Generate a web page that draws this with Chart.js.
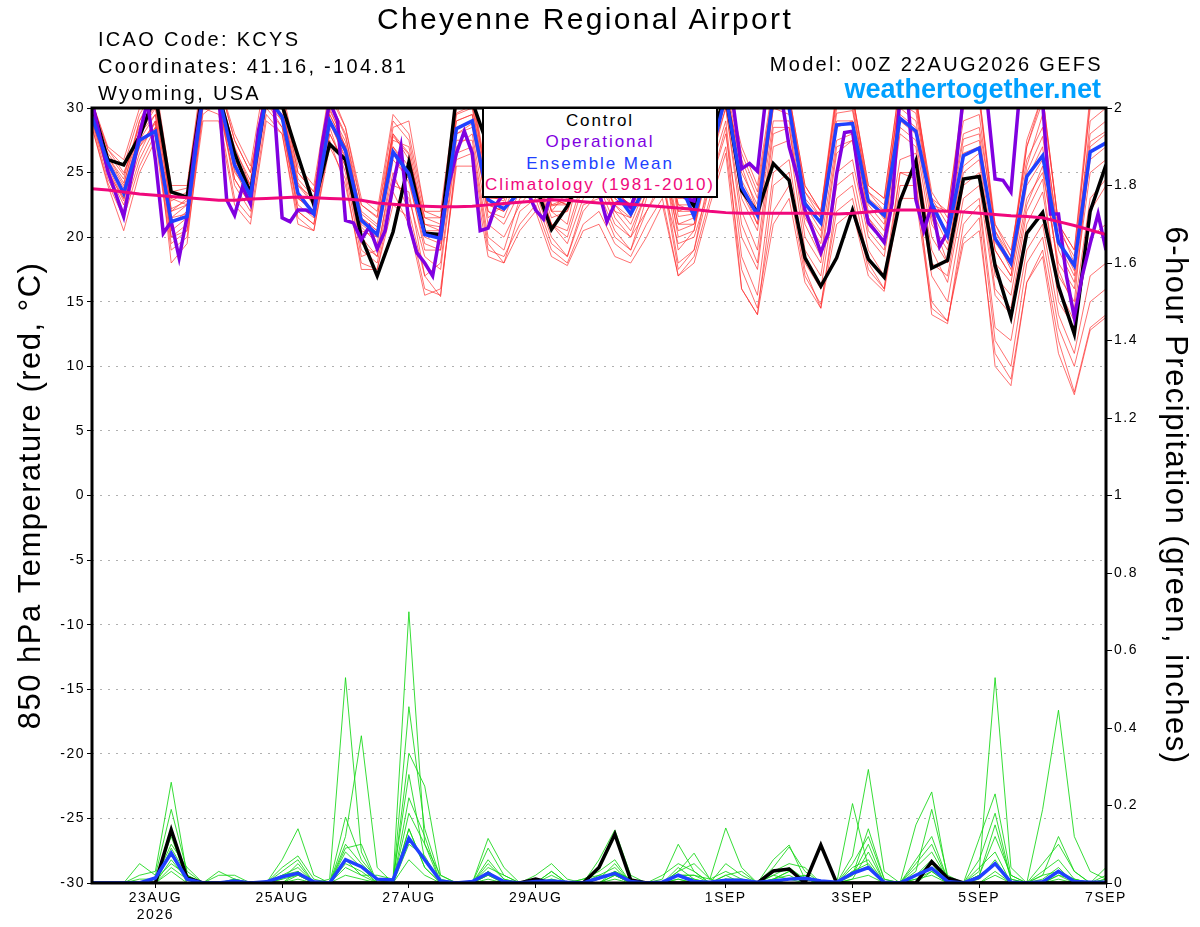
<!DOCTYPE html>
<html>
<head>
<meta charset="utf-8">
<title>Cheyenne Regional Airport - GEFS meteogram</title>
<script src="https://cdn.jsdelivr.net/npm/chart.js@4.4.1/dist/chart.umd.min.js"></script>
<style>
  html, body { margin: 0; padding: 0; background: #fff; overflow: hidden; }
  #wrap { position: relative; width: 1200px; height: 927px; font-family: 'Liberation Sans', Arial, sans-serif; color: #000; }
  #wrap canvas { position: absolute; left: 0; top: 0; }
  .txt { position: absolute; white-space: nowrap; font-size: 20px; line-height: 20px; letter-spacing: 2.3px; }
  #title { left: 0; width: 1170px; top: 4px; text-align: center; font-size: 30px; line-height: 30px; letter-spacing: 2.3px; }
  .right { right: 97px; text-align: right; }
  #site { right: 99px; font-weight: bold; font-size: 27px; line-height: 27px; letter-spacing: 0; color: #00a0ff; }
  #legend { position: absolute; left: 482px; top: 107px; width: 232px; height: 86px; padding-top: 1px;
            border: 2px solid #000; background: #fff; text-align: center;
            font-size: 17px; line-height: 21.3px; letter-spacing: 1.9px; }
</style>
</head>
<body>
<div id="wrap">
  <canvas id="chart" width="1200" height="927"></canvas>
  <div class="txt" id="title">Cheyenne Regional Airport</div>
  <div class="txt" style="left:98px; top:29px;">ICAO Code: KCYS</div>
  <div class="txt" style="left:98px; top:56px;">Coordinates: 41.16, -104.81</div>
  <div class="txt" style="left:98px; top:83px;">Wyoming, USA</div>
  <div class="txt right" style="top:54px;">Model: 00Z 22AUG2026 GEFS</div>
  <div class="txt" id="site" style="top:76px;">weathertogether.net</div>
  <div id="legend">
    <div style="color:#000">Control</div>
    <div style="color:#8000e0">Operational</div>
    <div style="color:#2040ff">Ensemble Mean</div>
    <div style="color:#f0087c">Climatology (1981-2010)</div>
  </div>
</div>
<script>
// ---- forecast hours (GEFS 6-hourly output, run 00Z 22AUG2026) ----
const fcstHours = [0,6,12,18,24,30,36,42,48,54,60,66,72,78,84,90,96,102,108,114,120,126,132,138,144,150,
  156,162,168,174,180,186,192,198,204,210,216,222,228,234,240,246,252,258,264,270,276,282,288,294,300,306,
  312,318,324,330,336,342,348,354,360,366,372,378,384];

// x-axis tick positions (hours) and their labels
const tickHours = [24, 72, 120, 168, 240, 288, 336, 384];
const tickLabels = [['23AUG', '2026'], '25AUG', '27AUG', '29AUG', '1SEP', '3SEP', '5SEP', '7SEP'];

// ---- 850 hPa temperature (C) ----
const ctlTemp = [30.2,26.0,25.6,27.8,31, 23.5,23.1,31.5,31,26.5, 23.4,31,30.2,26.3,22.5, 27.2,26.0,20.0,17.0,20.4,
  25.8,20.3,20.2,31,30.5, 27,29,28,24,20.6, 22.4,25,27,25.5,24, 26.5,28,24,22.4,27.5,
  31,23.6,21.9,25.7,24.4, 18.4,16.2,18.4,22.1,18.3, 16.9,22.8,25.9,17.6,18.2, 24.5,24.7,17.8,13.8,20.3,
  21.9,16.2,12.5,22.0,25.6];

const meanTemp = [29.3,25.8,23.4,27.5,28.2, 21.2,21.6,31,31,25.6, 23.2,31,29.3,23.4,21.8, 29.0,26.7,21.3,20.2,26.6,
  24.9,20.2,19.9,28.4,29.0, 22.9,22.2,23.5,23.2,23.4, 24,24.5,24,23.5,21.8, 24,25,24.5,21.6,26,
  31,23.9,21.7,31,30, 22.6,21.1,28.7,28.8,22.8, 21.7,29.2,28.2,22.6,20.1, 26.3,26.9,19.9,18.0,24.7,
  26.3,19.6,17.8,26.6,27.3];

const climTemp = [23.75,23.65,23.5,23.35,23.25, 23.15,23.05,22.95,22.85,22.85, 22.95,23.0,23.05,23.1,23.05,
  23.0,22.95,22.85,22.65,22.55, 22.45,22.4,22.35,22.35,22.4, 22.5,22.6,22.7,22.8,22.9, 22.85,22.75,22.65,22.6,22.55,
  22.45,22.35,22.25,22.15,22.0, 21.9,21.85,21.85,21.85,21.85, 21.85,21.85,21.8,21.85,21.95, 22.05,22.1,22.1,22.05,22.0,
  21.95,21.85,21.75,21.65,21.6, 21.5,21.2,20.9,20.55,20.2];

// operational run is 3-hourly
const opHours = [0,6,12,18,21,24,27,30,33,36,39,42,45,48,51,54,57,60,63,66,69,72,75,78,81,84,87,90,93,96,99,102,
  105,108,111,114,117,120,123,126,129,132,135,138,141,144,147,150,153,156,159,162,165,168,171,174,177,180,183,186,
  189,192,195,198,201,204,207,210,213,216,219,222,225,228,231,234,237,240,243,246,249,252,255,258,261,264,267,270,
  273,276,279,282,285,288,291,294,297,300,303,306,309,312,315,318,321,324,327,330,333,336,339,342,345,348,351,354,
  357,360,363,366,369,372,375,378,381,384];
const opTemp = [30.5,25.1,21.6,28,30.5,26,20.3,21.2,18.4,21.6,27,31,31,31,22.9,21.7,23.9,22.6,28.2,31,30,21.5,
  21.2,22.1,22.1,21.8,27,30.5,29,21.3,21.1,19.8,20.8,19.1,20.5,24,27,21,18.8,18,17,20.5,24,26.5,28.2,26.5,20.5,
  20.7,22.5,23.4,24.5,24,23.5,22.1,21.4,23.5,24.5,24,25,24,23.5,23.5,21.2,22.6,22.8,22.3,24,25,25.5,25,24.5,23.5,
  23,22.8,26,29,31,31,30,25.3,25.7,25.1,30.5,31,31,27,24.8,22.1,20.5,18.8,20.4,24.9,28.1,28.2,23.9,21.1,20.4,19.6,
  22.6,31,30.5,22.9,20.5,22.5,19.3,20.4,25.2,31,31,31,30.5,24.5,24.4,23.5,30.5,31,31,30.5,21.8,21.8,17,13.8,17,
  19.5,21.8,19.0];

// ensemble members, 850 hPa temperature
const ensTemp1 = [29.8,26.5,24.8,28.6,30.5, 22.8,23.5,32,31.5,26.8, 24.4,32,30.6,24.5,23.1, 30.5,27.8,22.5,21.6,28,
  26,21.5,21,30,30.5, 23.8,23.5,26,27,22.5, 23,27,26,23,22, 25,28,22.5,22,27,
  31.5,25,22.5,31,30.5, 23.5,22,30.5,30,23.5, 22.5,31,30,23,21, 28,28.5,21,19,26, 28.5,20.5,18.5,28,29];
const ensTemp2 = [28.5,24.2,21.5,25.5,28, 19.5,20.5,29.5,30.5,24, 22,30.5,29,22,21, 28,25.5,19.5,18.5,24.5,
  23,18.5,17.5,27,28, 21,20,22.5,24,21, 19.5,23,24,21,20, 22,24,19.5,20,24,
  28,20,17.5,27,27.5, 19,17,25,26,20, 18.5,26,26.5,19,16.5, 23,24,15.5,14,21, 23.5,16,13.5,22,24];
const ensTemp3 = [30.5,27,26,30,32, 24,24,33,32,28, 25.5,33,31.5,25.5,24, 31.5,28.5,23,22,29.5,
  28,22,22,31,31.5, 24,24,28,29,23, 22.5,28.5,27.5,24,23, 26,30,23,23,29,
  32,27,24,32,31, 24,22,31.5,31,24, 23,32,31,22.5,22, 31,31,21,18.5,27, 31,21,19,30,31];
const ensTemp4 = [29,25,22.5,26.5,29, 18,19.5,30,29.5,23, 21.5,29.5,28,21.5,20.5, 27,24.5,17.5,17.5,22.5,
  21.5,16,15.5,26,26.5, 19,18.5,21,22.5,19, 18,21,22,19.5,18.5, 21,23,17,18.5,23,
  27,17.5,14.5,22,24, 17,14.8,22,23,17.5, 16,24,24,15,13.5, 20,21.5,10,8.5,16.5, 19,12,8,13,14];
const ensTemp5 = [29.5,25.5,23.5,27,28.5, 21,22,31,30,25.5, 23,31,29.5,23,22, 29,26.5,21,20,27,
  25,20,19.5,28.5,29, 22.5,22,24,25,21.5, 22,25,24.5,22.5,21, 24,26,21,21,26,
  30.5,23,20.5,29,29, 21.5,19.5,27.5,28,22, 20.5,29,28,21,19, 25.5,26.5,18,16.5,23, 25,18,16,25,26];
const ensTemp6 = [30,26,24,29,31, 23,22.5,32.5,31,27, 24,31.5,30,24,22.5, 30,27,22,21,27.5,
  27,21,20.5,29.5,30, 23,23,27,28,22, 23.5,26,25,23.5,22.5, 25.5,29,22,22.5,28,
  31,26,23,31.5,31, 23,21.5,30,30.5,23, 22,31.5,30.5,22,20.5, 30,30.5,20.5,18,27, 30.5,21,19,31,31];
const ensTemp7 = [28.8,24.5,22,26,28.5, 20,21,30,30.5,24.5, 22.5,30,28.5,22.5,21.5, 28.5,25,18.5,19,25,
  22,17,18,27.5,27.5, 20,19,23,23.5,20, 18.5,22.5,23,20,19, 23,25,18,19,25,
  29,18.5,15.5,25,26, 18,16,24,25,19, 17,25,25,17,15, 22,23,13,12,19, 21,14,11,17,18];
const ensTemp8 = [30.2,26.8,25,28,30, 22,23,31.5,31,26, 24,32,30,24,23, 29.5,27,20.5,20,28.5,
  29,22,21.5,29,29.5, 21.5,22.5,25.5,26,22, 21,26.5,26.5,22,21.5, 25,27,20,20.5,27,
  31,24,21,30,30, 22,20,29,29,21.5, 20,30,29,21.5,18, 27,27.5,19,17,24.5, 27,17,15,27,28];
const ensTemp9 = [29,25,23,27.5,29.5, 20.5,21.5,31,31,25, 23.5,31,29,23,22, 29,26,20,18.5,26,
  24.5,19,19,28,28.5, 22,21,23.5,25,21, 20,24,25.5,21.5,20, 23.5,26.5,19,20.5,26,
  30,21,18,28,28.5, 20,18,26.5,27.5,20.5, 19,28,27,18,17, 24,25,16,14.5,22, 24.5,15,13,20,21];
const ensTemp10 = [30,26.2,24.5,29,31.5, 22,22.5,32,32,27.5, 25,31.5,31,25,23.5, 30.5,28,21.5,20.5,28,
  26.5,20.5,20,30.5,31, 24,23.5,27.5,28.5,23, 22.5,27.5,27,23.5,22.5, 26,29.5,22,22,28.5,
  31.5,25.5,22,31,30.5, 23.5,21.5,31,31,23.5, 22,31,30.5,23.5,21.5, 29,29.5,20,17.5,25.5, 29.5,19.5,17,29,30];
const ensTemp11 = [28.5,24,20.5,25,27.5, 19,20,29,29,22.5, 21,29,28,21,20.5, 27.5,24,18,17.5,23.5,
  21,15.5,16,25.5,25.5, 18.5,18,20.5,22,18.5, 17.8,20.5,21,18.5,18, 20,22.5,17,18,22.5,
  26.5,16,14,21,23, 16.5,14.5,21,22,17, 15.8,23,23,14.5,13.5, 19.5,20.5,11,9,16.5, 18.5,11,7.8,12.8,13.8];
const ensTemp12 = [29.6,25.8,23.8,28,29.5, 21.5,22.5,31,30.5,26, 23.5,30.5,29.5,23.5,22, 29.5,27,21.5,20.5,27,
  25.5,20.5,20.5,29,29.5, 22.5,22,25,26.5,22, 22,25.5,25,22.5,21.5, 24.5,27,21,21.5,26.5,
  30.5,23.5,21,30,29.5, 22.5,20.5,28.5,29,22.5, 21,29.5,28.5,22,19.5, 26.5,27,19,17,24, 26,19,16.5,26,27];
const ensTemp13 = [29.2,25.2,22.8,27,29, 20,20.5,30.5,30,24.5, 22.5,30.5,28.5,22,21, 28,25.5,19,18,24,
  23.5,17,15.4,26.5,27, 19.5,18,22,23,19.5, 18.5,22,23.5,20.5,19, 22,24.5,17.5,19,24,
  28.5,16,14,24,25, 17.5,14.5,23,24,18, 16,25,24.5,14,13.3, 21,22.5,12,10,18, 20,13,10,15,16];
const ensTemp14 = [30.5,26.8,25.5,29.5,31.5, 23.5,23.8,32.5,32,27.5, 25,32,31,25,23.5, 31,28.5,22.5,21.5,29,
  27.5,21.5,21.5,30.5,31, 23.5,23.5,27.5,28.5,22.5, 22.5,28,27,23.5,22.5, 26,29.5,22.5,22.5,28.5,
  31.5,26.5,23.5,31.5,31, 24,22,31,31,24, 23,32,31,23,22, 30.5,31,20.5,18.5,27.5, 31,21,18,30.5,31];
const ensTemp15 = [29.4,25.4,23,27.2,28.8, 21.5,21.8,30.8,30.6,25.2, 22.8,30.8,29.2,23.2,21.8, 28.8,26.2,20.8,19.5,26.5,
  24.2,19.5,19,28,28.8, 22,21.5,24.5,24.5,21, 20.5,24.5,24,22,20.5, 23.5,25.5,20.5,21,25.5,
  30,22,19,28.5,28.5, 21,18.5,27,27.5,21.5, 19.5,28.5,27.5,20,18, 25,26,17,15.5,22.5, 25.5,17.5,14.5,23,24.5];
const ensTemp16 = [29.9,26.2,24.2,28.2,30.2, 22.2,22.8,31.8,31.2,26.4, 24,31.2,30.2,24.2,22.6, 29.8,27.4,21.8,20.8,27.8,
  26.4,21,20.8,29.6,30.2, 23.2,22.8,26.4,27.4,22.4, 22.8,26.4,26,23,22, 25.2,28.4,21.6,21.8,27.4,
  31,24.4,22,30.4,30, 22.8,21,29.6,29.8,23, 21.4,30.4,29.6,22.4,20.4, 27.6,28,19.6,17.8,25, 27.8,19.8,17.4,27.4,28.2];
const ensTemp = [ensTemp1, ensTemp2, ensTemp3, ensTemp4, ensTemp5, ensTemp6, ensTemp7, ensTemp8,
  ensTemp9, ensTemp10, ensTemp11, ensTemp12, ensTemp13, ensTemp14, ensTemp15, ensTemp16];

// ---- 6-hour precipitation (inches) ----
const ctlPrecip = [0,0,0,0,0, 0.137,0.013,0,0,0, 0,0,0,0,0, 0,0,0,0,0, 0,0,0,0,0, 0,0,0,0.01,0,
  0,0,0.04,0.126,0.008, 0,0,0,0,0, 0,0,0,0.031,0.036, 0,0.098,0,0,0, 0,0,0,0.055,0.013, 0,0,0,0,0, 0,0,0,0,0];
const meanPrecip = [0,0,0,0,0.013, 0.077,0.01,0,0,0.005, 0,0.003,0.016,0.025,0.003, 0,0.06,0.042,0.01,0.008,
  0.115,0.06,0.005,0,0.004, 0.025,0.004,0,0.004,0.005, 0.002,0,0.013,0.025,0.004, 0,0.002,0.02,0.004,0.002,
  0.007,0.007,0.002,0.005,0.01, 0.012,0.005,0.002,0.025,0.04, 0.002,0,0.02,0.038,0.004, 0,0.015,0.05,0.002,0,
  0.003,0.03,0.004,0.002,0.002];

const ensPrecip1 = [0,0,0,0,0.01, 0.12,0.01,0,0,0.01, 0,0,0.02,0.03,0, 0,0.08,0.04,0,0.01, 0.70,0.1,0,0,0,
  0.03,0,0,0,0.01, 0,0,0.02,0.04,0, 0,0,0.02,0.01,0, 0.02,0,0,0.01,0.02, 0,0,0,0.03,0.05,
  0,0,0.02,0.06,0, 0,0.03,0.53,0.04,0, 0,0.02,0,0,0];
const ensPrecip2 = [0,0,0,0.02,0.03, 0.26,0.02,0,0,0, 0,0,0.01,0.05,0, 0.01,0.53,0.08,0,0, 0.14,0.04,0,0,0,
  0.06,0.01,0,0,0, 0,0.01,0.02,0.02,0, 0,0.01,0.1,0.03,0, 0.01,0,0,0.02,0.01, 0.02,0,0,0.205,0.04,
  0,0,0,0.03,0, 0,0.02,0.15,0.01,0, 0.02,0.12,0.03,0,0];
const ensPrecip3 = [0,0,0,0,0, 0.08,0,0,0.03,0.01, 0,0,0.06,0.14,0.02, 0,0.12,0.38,0.04,0, 0.335,0.25,0.02,0,0,
  0.02,0,0,0.02,0.05, 0.01,0,0,0.02,0, 0,0,0.03,0.077,0.01, 0,0,0,0.01,0.03, 0.01,0,0,0.02,0.14,
  0.01,0,0.03,0.19,0.02, 0,0,0.02,0,0, 0.19,0.446,0.12,0.03,0.01];
const ensPrecip4 = [0,0,0,0.05,0.02, 0.19,0.03,0,0,0, 0,0,0.01,0.02,0, 0,0.17,0.06,0.01,0, 0.455,0.14,0.01,0,0,
  0.09,0.02,0,0,0.02, 0,0,0.06,0.137,0.02, 0,0,0.02,0.02,0.01, 0.142,0.04,0,0,0.01, 0.02,0,0,0.07,0.293,
  0.03,0,0.01,0.02,0, 0,0.115,0.23,0.02,0, 0,0.03,0.01,0,0.04];
const ensPrecip5 = [0,0,0,0.01,0.01, 0.10,0.04,0,0.02,0.02, 0,0,0.04,0.07,0.01, 0,0.04,0.02,0.02,0.01, 0.28,0.06,0,0,0,
  0.115,0.04,0,0,0.03, 0,0,0.01,0.03,0.01, 0,0.02,0.05,0.03,0, 0.05,0.02,0,0.04,0.093, 0.03,0,0,0.01,0.08,
  0,0,0.15,0.235,0.01, 0,0.02,0.12,0.02,0, 0,0.02,0.01,0,0.02];
const ensPrecip6 = [0,0,0,0,0, 0.06,0.01,0,0,0, 0,0,0,0.03,0, 0,0.1,0.05,0.01,0, 0.18,0.1,0.02,0,0,
  0.05,0.01,0,0,0, 0,0.01,0.03,0.06,0, 0,0,0.01,0,0, 0.01,0.01,0,0.06,0.098, 0.01,0,0,0.02,0.1,
  0,0,0.04,0.08,0.01, 0,0.04,0.08,0,0, 0.03,0.06,0.01,0,0];
const ensPrecip7 = [0,0,0,0,0.01, 0.05,0.02,0,0,0, 0,0,0.02,0.04,0, 0,0.06,0.02,0,0, 0.14,0.04,0,0,0,
  0.03,0,0,0,0.01, 0,0,0,0.03,0.01, 0,0,0.04,0.01,0, 0.02,0.03,0,0.02,0.04, 0.01,0,0,0.04,0.06,
  0,0,0.05,0.1,0.01, 0,0.01,0.06,0,0, 0.01,0.04,0,0,0.01];
const ensPrecip8 = [0,0,0,0,0, 0.03,0,0,0,0.01, 0,0,0,0.01,0, 0,0.02,0.01,0,0, 0.06,0.02,0,0,0,
  0.01,0,0,0,0, 0,0,0,0.01,0, 0,0,0.01,0,0, 0,0,0,0,0.01, 0,0,0,0.01,0.02,
  0,0,0.01,0.03,0, 0,0,0.03,0,0, 0,0.01,0,0,0];
const ensPrecip9 = [0,0,0,0,0, 0.09,0.02,0,0,0, 0,0,0.03,0.06,0, 0,0.09,0.1,0,0, 0.22,0.12,0,0,0,
  0.04,0.02,0,0,0.03, 0,0,0.01,0.05,0, 0,0,0.03,0.05,0.01, 0.03,0.01,0,0.03,0.05, 0.04,0,0,0.05,0.12,
  0.01,0,0.06,0.12,0.01, 0,0.06,0.18,0.01,0, 0.05,0.1,0.03,0,0];
const ensPrecip10 = [0,0,0,0,0, 0.04,0.01,0,0,0, 0,0,0,0.02,0, 0,0.05,0.03,0,0, 0.1,0.07,0,0,0,
  0.02,0,0,0,0, 0,0,0,0.02,0, 0,0,0.02,0.02,0, 0.01,0,0,0.01,0.03, 0.01,0,0,0.03,0.04,
  0,0,0.02,0.05,0, 0,0.02,0.05,0,0, 0.02,0.03,0,0,0.01];
const ensPrecip = [ensPrecip1, ensPrecip2, ensPrecip3, ensPrecip4, ensPrecip5,
  ensPrecip6, ensPrecip7, ensPrecip8, ensPrecip9, ensPrecip10];

const FONT = "'Liberation Sans', Arial, sans-serif";

// pair hours with values
const pts = (hours, vals) => vals.map((v, i) => ({ x: hours[i], y: v }));

function series(label, data, color, width, axis, order) {
  return {
    label, data, order,
    yAxisID: axis,
    borderColor: color,
    backgroundColor: color,
    borderWidth: width,
    pointRadius: 0,
    tension: 0,
    fill: false,
    clip: 0,
  };
}

const datasets = [];
ensTemp.forEach((m, k) => datasets.push(series('Member ' + (k + 1), pts(fcstHours, m), 'rgba(255,45,45,0.68)', 1, 'y', 9)));
ensPrecip.forEach((m, k) => datasets.push(series('Member ' + (k + 1) + ' precip', pts(fcstHours, m), 'rgba(20,215,20,0.85)', 1, 'yP', 8)));
datasets.push(series('Control precip', pts(fcstHours, ctlPrecip), '#000', 3.5, 'yP', 3));
datasets.push(series('Ensemble Mean precip', pts(fcstHours, meanPrecip), '#2040ff', 3.5, 'yP', 1));
datasets.push(series('Control', pts(fcstHours, ctlTemp), '#000', 3.5, 'y', 3));
datasets.push(series('Operational', pts(opHours, opTemp), '#8000e0', 3.5, 'y', 2));
datasets.push(series('Ensemble Mean', pts(fcstHours, meanTemp), '#2040ff', 3.5, 'y', 1));
datasets.push(series('Climatology (1981-2010)', pts(fcstHours, climTemp), '#f0087c', 3, 'y', 0));

// wide GrADS-like lettering and the black plot frame
const framePlugin = {
  id: 'frame',
  beforeDraw(chart) { chart.ctx.letterSpacing = '1.5px'; },
  afterDatasetsDraw(chart) {
    const { ctx, chartArea: a } = chart;
    ctx.save();
    ctx.strokeStyle = '#000';
    ctx.lineWidth = 3;
    ctx.strokeRect(a.left, a.top, a.right - a.left, a.bottom - a.top);
    ctx.restore();
  },
};

new Chart(document.getElementById('chart'), {
  type: 'line',
  data: { datasets },
  options: {
    responsive: false,
    animation: false,
    events: [],
    layout: { padding: { top: 108, left: 0, right: 0, bottom: 0 } },
    plugins: { legend: { display: false }, tooltip: { enabled: false } },
    scales: {
      x: {
        type: 'linear',
        min: 0,
        max: 384,
        afterBuildTicks: s => { s.ticks = tickHours.map(v => ({ value: v })); },
        afterFit: s => { s.height = 44; },
        grid: { drawOnChartArea: false, tickLength: 5, tickColor: '#000', tickWidth: 1 },
        border: { display: false },
        ticks: {
          color: '#000',
          font: { family: FONT, size: 14 },
          padding: 2,
          maxRotation: 0,
          autoSkip: false,
          callback: v => tickLabels[tickHours.indexOf(v)],
        },
      },
      y: {
        position: 'left',
        min: -30,
        max: 30,
        afterFit: s => { s.width = 92; },
        grid: { color: '#b0b0b0', lineWidth: 1, tickColor: '#000', tickLength: 5 },
        border: { display: false, dash: [2, 6] },
        ticks: { stepSize: 5, color: '#000', font: { family: FONT, size: 14 }, padding: 2 },
        title: {
          display: true,
          text: '850 hPa Temperature (red, °C)',
          color: '#000',
          font: { family: FONT, size: 31 },
          padding: { top: 13, bottom: 0 },
        },
      },
      yP: {
        position: 'right',
        min: 0,
        max: 2,
        afterFit: s => { s.width = 94; },
        grid: { drawOnChartArea: false, tickColor: '#000', tickLength: 6 },
        border: { display: false },
        ticks: {
          stepSize: 0.2,
          color: '#000',
          font: { family: FONT, size: 14 },
          padding: 2,
          callback: v => String(Number(v.toFixed(1))),
        },
        title: {
          display: true,
          text: '6-hour Precipitation (green, inches)',
          color: '#000',
          font: { family: FONT, size: 31 },
          padding: { top: 7, bottom: 0 },
        },
      },
    },
  },
  plugins: [framePlugin],
});
</script>
</body>
</html>
